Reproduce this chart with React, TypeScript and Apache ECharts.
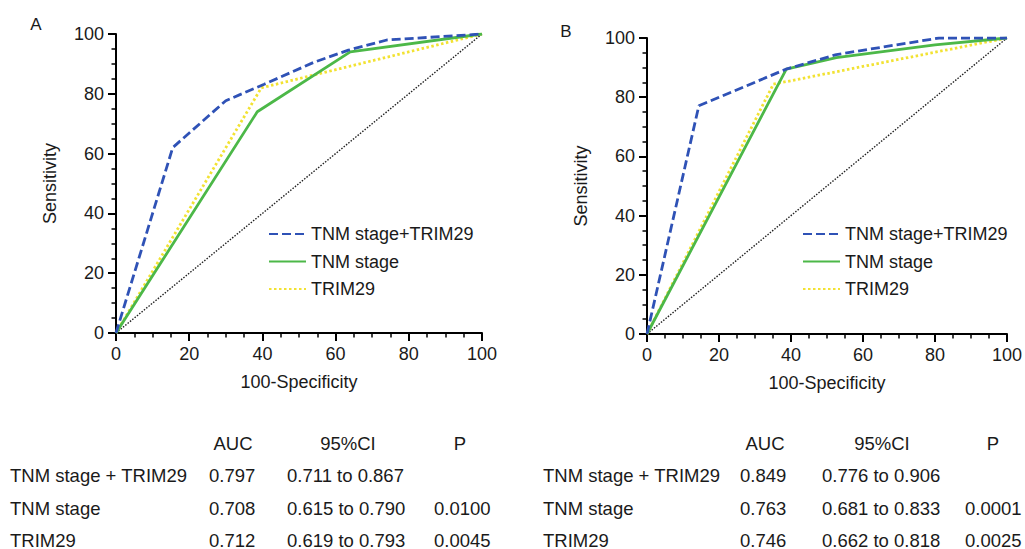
import React, { useEffect, useRef } from "react";
import * as echarts from "echarts";

// Panel A ROC points [100-Specificity, Sensitivity]
const aCombo = [[0, 0], [15.5, 62], [30, 77.7], [40.5, 83.2], [54, 90.5], [63.5, 94.6], [74, 98], [100, 100]];
const aTnm = [[0, 0], [38.6, 74], [64, 94], [100, 100]];
const aTrim = [[0, 0], [39.7, 82], [100, 100]];
// Panel B ROC points
const bCombo = [[0, 0], [14.4, 77.1], [38.7, 89.5], [52.6, 94.4], [81.1, 100], [100, 100]];
const bTnm = [[0, 0], [38.7, 89.5], [52.6, 93.4], [80, 97.7], [100, 100]];
const bTrim = [[0, 0], [35.1, 84.4], [100, 100]];
const diag = [[0, 0], [100, 100]];

const seriesNames = ["TNM stage+TRIM29", "TNM stage", "TRIM29"];
const tableHeader = ["AUC", "95%CI", "P"];
const tableRows = ["TNM stage + TRIM29", "TNM stage", "TRIM29"];
const aAuc = ["0.797", "0.708", "0.712"];
const aCi = ["0.711 to 0.867", "0.615 to 0.790", "0.619 to 0.793"];
const aP = ["", "0.0100", "0.0045"];
const bAuc = ["0.849", "0.763", "0.746"];
const bCi = ["0.776 to 0.906", "0.681 to 0.833", "0.662 to 0.818"];
const bP = ["", "0.0001", "0.0025"];

const FONT = "'Liberation Sans', Arial, Helvetica, sans-serif";
const TXT = "#1a1a1a";
const BLUE = "#2f52b6";
const GREEN = "#4cb848";
const YELLOW = "#f2e232";
const TFS = 18.5;

function axis(gridIndex: number, name: string, isX: boolean) {
  return {
    type: "value",
    gridIndex,
    min: 0,
    max: 100,
    interval: 20,
    name,
    nameLocation: "middle",
    nameGap: isX ? 40 : 57,
    nameTextStyle: { fontSize: 18, color: TXT, fontFamily: FONT },
    axisLine: { show: true, onZero: false, lineStyle: { color: "#000", width: 2 } },
    axisTick: { show: true, inside: false, length: 8, lineStyle: { color: "#000", width: 2 } },
    minorTick: { show: true, splitNumber: 4, length: 4.5, lineStyle: { color: "#000", width: 1.5 } },
    splitLine: { show: false },
    minorSplitLine: { show: false },
    axisLabel: { fontSize: 18, color: TXT, fontFamily: FONT, margin: 12 },
  };
}

function lineSeries(name: string, data: number[][], idx: number, color: string, type: any, width: number) {
  return {
    type: "line",
    name,
    xAxisIndex: idx,
    yAxisIndex: idx,
    data,
    showSymbol: false,
    symbol: "none",
    lineStyle: { color, type, width },
    itemStyle: { color },
    z: 3,
  };
}

function tableGraphics(x0: number, aucX: number, ciX: number, pX: number, hdr: number[], auc: string[], ci: string[], p: string[]) {
  const out: any[] = [];
  const rowsY = [475, 508, 540];
  const headY = 443;
  const st = (t: string, align: string) => ({ text: t, fontSize: TFS, fontFamily: FONT, fill: TXT, textAlign: align, textVerticalAlign: "middle" });
  tableHeader.forEach((h, i) => {
    out.push({ type: "text", x: hdr[i], y: headY, style: st(h, "center") });
  });
  tableRows.forEach((r, i) => {
    const y = rowsY[i];
    out.push({ type: "text", x: x0, y, style: st(r, "left") });
    out.push({ type: "text", x: aucX, y, style: st(auc[i], "left") });
    out.push({ type: "text", x: ciX, y, style: st(ci[i], "left") });
    if (p[i]) out.push({ type: "text", x: pX, y, style: st(p[i], "left") });
  });
  return out;
}

function legend(left: number) {
  return {
    orient: "vertical",
    left,
    top: 220,
    itemWidth: 37,
    itemHeight: 14,
    itemGap: 9.5,
    data: seriesNames,
    itemStyle: { opacity: 0 },
    textStyle: { fontSize: 18, color: TXT, fontFamily: FONT },
    selectedMode: false,
  };
}

export default function App() {
  const ref = useRef<HTMLDivElement>(null);
  useEffect(() => {
    if (!ref.current) return;
    const chart = echarts.init(ref.current, null, { renderer: "svg" });
    const dash = [9, 4];
    const dot = [2.5, 2.5];
    const option: any = {
      animation: false,
      backgroundColor: "#fff",
      grid: [
        { left: 116, right: 543, top: 34, bottom: 216 },
        { left: 647, right: 16, top: 38, bottom: 215 },
      ],
      xAxis: [axis(0, "100-Specificity", true), axis(1, "100-Specificity", true)],
      yAxis: [axis(0, "Sensitivity", false), axis(1, "Sensitivity", false)],
      legend: [legend(263), legend(797)],
      series: [
        { ...lineSeries("diagA", diag, 0, "#222", [1.5, 1.5], 1.4), z: 2 },
        lineSeries(seriesNames[2], aTrim, 0, YELLOW, dot, 2.8),
        lineSeries(seriesNames[1], aTnm, 0, GREEN, "solid", 2.8),
        lineSeries(seriesNames[0], aCombo, 0, BLUE, dash, 2.8),
        { ...lineSeries("diagB", diag, 1, "#222", [1.5, 1.5], 1.4), z: 2 },
        lineSeries(seriesNames[2], bTrim, 1, YELLOW, dot, 2.8),
        lineSeries(seriesNames[1], bTnm, 1, GREEN, "solid", 2.8),
        lineSeries(seriesNames[0], bCombo, 1, BLUE, dash, 2.8),
      ],
      graphic: [
        { type: "text", x: 36, y: 24, style: { text: "A", fontSize: 17, fontFamily: FONT, fill: TXT, textAlign: "center", textVerticalAlign: "middle" } },
        { type: "text", x: 566, y: 31, style: { text: "B", fontSize: 17, fontFamily: FONT, fill: TXT, textAlign: "center", textVerticalAlign: "middle" } },
        ...tableGraphics(10, 209, 287, 434, [233, 348, 460], aAuc, aCi, aP),
        ...tableGraphics(543, 740, 822, 965, [765, 882, 993], bAuc, bCi, bP),
      ],
    };
    chart.setOption(option);
    return () => chart.dispose();
  }, []);
  return (
    <div
      ref={ref}
      style={{ position: "fixed", left: 0, top: 0, width: 1025, height: 549, background: "#fff" }}
    />
  );
}
